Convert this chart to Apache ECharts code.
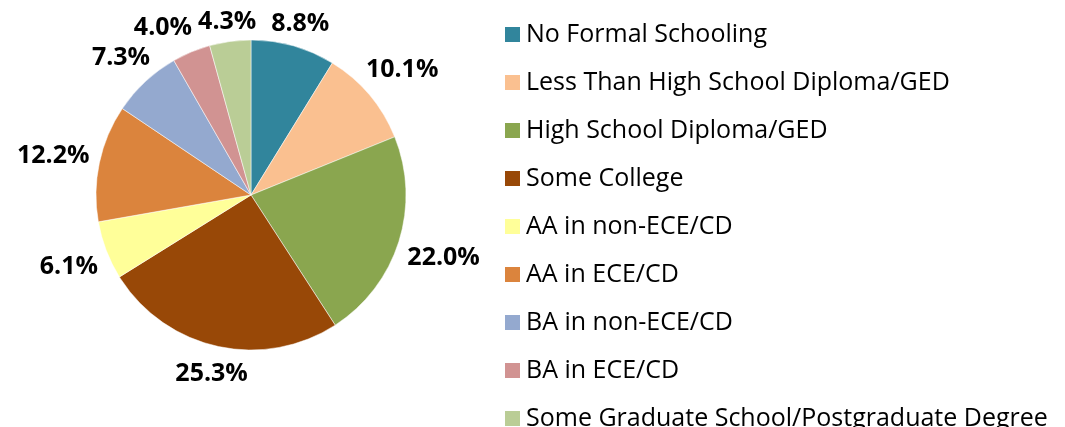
<!DOCTYPE html>
<html>
<head>
<meta charset="utf-8">
<script src="https://cdn.jsdelivr.net/npm/echarts@6/dist/echarts.min.js"></script>
<style>
  html, body { margin: 0; padding: 0; background: #fff; }
  #chart { width: 1065px; height: 427px; }
</style>
</head>
<body>
<div id="chart"></div>
<script>
// education categories and their share (%)
const categories = [
  "No Formal Schooling",
  "Less Than High School Diploma/GED",
  "High School Diploma/GED",
  "Some College",
  "AA in non-ECE/CD",
  "AA in ECE/CD",
  "BA in non-ECE/CD",
  "BA in ECE/CD",
  "Some Graduate School/Postgraduate Degree"
];
const shares = [8.8, 10.1, 22.0, 25.3, 6.1, 12.2, 7.3, 4.0, 4.3];
const colors = [
  "#31859C", "#FAC090", "#8AA64F", "#984807", "#FFFF99",
  "#DB843D", "#94A9CF", "#D19392", "#BACD96"
];

const CX = 251, CY = 195, R = 155;
const LABEL_FONT = 'bold 25px "Open Sans"';
const LABEL_GAP = 10;
const total = shares.reduce((a, b) => a + b, 0);
const fmt = (v) => v.toFixed(1) + "%";

// work out where each label goes: just outside the rim along the slice's mid angle
const ctx = document.createElement("canvas").getContext("2d");
ctx.font = LABEL_FONT;
const spots = [];
let acc = 0;
shares.forEach((v) => {
  const a = ((acc + v / 2) / total) * Math.PI * 2;
  acc += v;
  const dx = Math.sin(a), dy = -Math.cos(a);
  const w = ctx.measureText(fmt(v)).width, h = 16;
  const d = R + LABEL_GAP + (w / 2) * Math.abs(dx) + (h / 2) * Math.abs(dy);
  spots.push({ x: CX + dx * d, y: CY + dy * d + 2.5, w: w, h: h });
});
// push neighbours apart sideways if they collide
for (let i = spots.length - 2; i >= 0; i--) {
  const p = spots[i], q = spots[i + 1];
  const ox = (p.w + q.w) / 2 + 6 - Math.abs(p.x - q.x);
  const oy = (p.h + q.h) / 2 + 4 - Math.abs(p.y - q.y);
  if (ox > 0 && oy > 0) p.x += p.x < q.x ? -ox : ox;
}

const chart = echarts.init(document.getElementById("chart"));

chart.setOption({
  animation: false,
  color: colors,
  legend: {
    orient: "vertical",
    left: 503,
    top: 22,
    height: 600,
    padding: 0,
    icon: "rect",
    itemWidth: 17,
    itemHeight: 17,
    itemGap: 23,
    data: categories,
    textStyle: {
      fontFamily: "Open Sans",
      fontSize: 25,
      lineHeight: 25,
      color: "#000"
    }
  },
  series: [
    {
      type: "pie",
      center: [CX, CY],
      radius: R,
      startAngle: 90,
      clockwise: true,
      silent: true,
      itemStyle: { borderColor: "#fff", borderWidth: 0.5 },
      label: {
        show: true,
        position: "outside",
        overflow: "none",
        formatter: (p) => fmt(p.value),
        fontFamily: "Open Sans",
        fontWeight: "bold",
        fontSize: 25,
        color: "#000"
      },
      labelLine: { show: false },
      labelLayout: (params) => ({
        x: spots[params.dataIndex].x,
        y: spots[params.dataIndex].y,
        align: "center",
        verticalAlign: "middle"
      }),
      data: categories.map((name, i) => ({ name: name, value: shares[i] }))
    }
  ]
});
</script>
</body>
</html>
